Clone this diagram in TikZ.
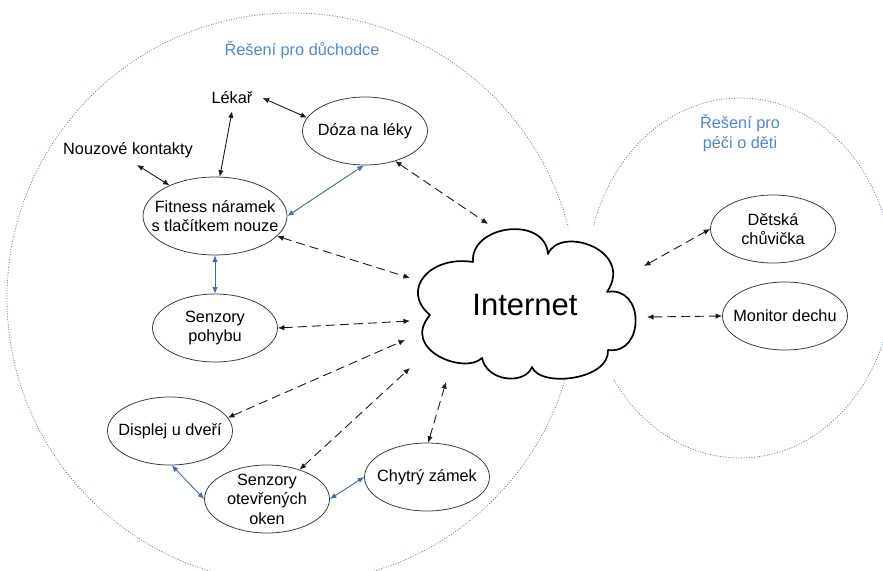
\documentclass[tikz,border=0pt]{standalone}
\usepackage{fontspec}
\setmainfont{Liberation Sans}
\usetikzlibrary{shapes.geometric,arrows.meta}
\definecolor{arrowblue}{RGB}{70,108,165}
\definecolor{zoneblue}{RGB}{95,128,180}
\definecolor{labelblue}{RGB}{84,134,204}
\begin{document}
\begin{tikzpicture}[x=1pt,y=-1pt,
  every node/.style={font=\fontsize{16.3}{19.5}\selectfont},
  dev/.style={ellipse, draw=black!80, line width=0.75pt, fill=white,
    minimum width=125pt, minimum height=68pt, inner sep=0pt},
  txt/.style={align=center, inner sep=0pt},
  lbl/.style={inner sep=7pt},
  blk/.style={{Latex[length=6.5pt,width=5.5pt]}-{Latex[length=6.5pt,width=5.5pt]}, line width=0.9pt, draw=black!90},
  blu/.style={{Latex[length=6.5pt,width=5.5pt]}-{Latex[length=6.5pt,width=5.5pt]}, line width=0.9pt, draw=arrowblue, fill=arrowblue},
  dsh/.style={blk, dash pattern=on 9pt off 5pt},
  zone/.style={draw=zoneblue, line width=0.8pt, dash pattern=on 1pt off 1.6pt},
  cloudline/.style={draw=black, line width=1.7pt, fill=white, line join=round},
]
\useasboundingbox (0,0) rectangle (883,570);
\begin{scope}
  \clip (0,0) rectangle (883,570);
  \draw[zone] (292,298) circle [radius=285];
  \draw[zone] (740,278) ellipse [x radius=153, y radius=180];
\end{scope}

% cloud
\fill[white] (413,227) rectangle (641,379);
\draw[cloudline] (430,315)
  .. controls (400,290) and (430,255) .. (473,262)
  .. controls (470,225) and (545,215) .. (548,254)
  .. controls (560,225) and (635,250) .. (607,292)
  .. controls (645,285) and (645,355) .. (608,350)
  .. controls (610,380) and (540,388) .. (532,367)
  .. controls (525,385) and (487,382) .. (482,358)
  .. controls (465,375) and (400,350) .. (430,315) -- cycle;
\node[font=\fontsize{31}{36}\selectfont, inner sep=0pt] (net) at (525,305) {Internet};

% zone labels
\node[text=labelblue] (zone1) at (302,50) {Řešení pro důchodce};
\node[text=labelblue, align=center, font=\fontsize{16.3}{20}\selectfont] (zone2) at (740,133) {Řešení pro\\péči o děti};

% devices
\node[dev, label={[txt]center:Dóza na léky}] (doza) at (365,131) {};
\node[dev, minimum width=144pt, minimum height=78pt, label={[txt]center:Fitness náramek\\s tlačítkem nouze}] (fit) at (215,216) {};
\node[dev, label={[txt]center:Senzory\\pohybu}] (pohyb) at (215,328) {};
\node[dev, label={[txt]center:Displej u dveří}] (displ) at (170,431) {};
\node[dev, label={[txt]center:Senzory\\otevřených\\oken}] (okna) at (267,499) {};
\node[dev, label={[txt]center:Chytrý zámek}] (zamek) at (427,477) {};
\node[dev, label={[txt]center:Dětská\\chůvička}] (chuv) at (773,229) {};
\node[dev, label={[txt]center:Monitor dechu}] (monit) at (785,316) {};
\node[lbl] (lekar) at (232,98) {Lékař};
\node[lbl] (nouz) at (128,150) {Nouzové kontakty};

% free ends near the cloud
\coordinate (n1) at (488,224);
\coordinate (n2) at (410,278);
\coordinate (n3) at (410,321);
\coordinate (n4) at (405,340);
\coordinate (n5) at (410,368);
\coordinate (n6) at (446,382);
\coordinate (n7) at (644,266);
\coordinate (n8) at (647,317);

% solid black
\draw[blk] ([xshift=3pt]lekar.east) -- (doza.167);
\draw[blk] (lekar.south) -- (fit.83);
\draw[blk] ([xshift=9pt]nouz.south) -- (fit.146);
% solid blue
\draw[blu] (fit.0) -- (doza.-92);
\draw[blu] (fit.-90) -- (pohyb.90);
\draw[blu] (displ.-87) -- (okna.180);
\draw[blu] (okna.0) -- (zamek.180);
% dashed
\draw[dsh] (doza.-45) -- (n1);
\draw[dsh] (fit.-18) -- (n2);
\draw[dsh] (pohyb.0) -- (n3);
\draw[dsh] (displ.13) -- (n4);
\draw[dsh] (okna.42) -- (n5);
\draw[dsh] (zamek.88) -- (n6);
\draw[dsh] (n7) -- (chuv.180);
\draw[dsh] (n8) -- (monit.180);
\end{tikzpicture}
\end{document}
